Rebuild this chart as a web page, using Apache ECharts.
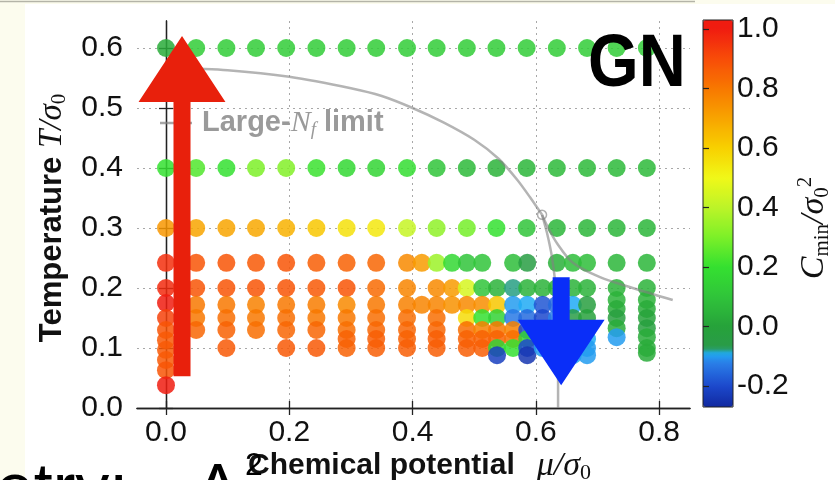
<!DOCTYPE html>
<html>
<head>
<meta charset="utf-8">
<script src="https://cdn.jsdelivr.net/npm/echarts@6/dist/echarts.min.js"></script>
<style>
  html, body { margin: 0; padding: 0; background: #ffffff; }
  #chart { width: 835px; height: 480px; }
</style>
</head>
<body>
<div id="chart"></div>
<script>
// ---- scan grid: chemical potential mu/sigma0 of the regular columns ----
const muGrid = [0, 0.049, 0.098, 0.146, 0.195, 0.244, 0.293, 0.341, 0.391,
                0.439, 0.488, 0.536, 0.585, 0.634, 0.683, 0.731, 0.78];

// C_min/sigma0^2 along the three high-temperature rows
const cminAt060 = [0.03, 0.13, 0.13, 0.13, 0.13, 0.13, 0.13, 0.13, 0.13,
                   0.13, 0.13, 0.13, 0.13, 0.13, 0.13, 0.13, 0.13];
const cminAt040 = [0.2, 0.24, 0.2, 0.3, 0.31, 0.21, 0.17, 0.16, 0.19,
                   0.1, 0.07, 0.05, 0.06, 0.07, 0.07, 0.07, 0.07];
const cminAt030 = [0.73, 0.7, 0.7, 0.69, 0.67, 0.62, 0.56, 0.54, 0.42,
                   0.33, 0.29, 0.2, 0.1, 0.06, 0.06, 0.06, 0.06];

// low-temperature scan points: [mu, T, C_min]
const lowScanHadronic = [
  [0, 0.242, 0.96], [0, 0.2, 0.97], [0, 0.175, 1.0], [0, 0.15, 0.92], [0, 0.13, 0.88],
  [0, 0.113, 0.87], [0, 0.097, 0.87], [0, 0.08, 0.87], [0, 0.063, 0.88], [0, 0.038, 1.0],
  [0.049, 0.242, 0.88], [0.049, 0.2, 0.88], [0.049, 0.172, 0.8], [0.049, 0.15, 0.8], [0.049, 0.13, 0.84],
  [0.098, 0.242, 0.88], [0.098, 0.2, 0.88], [0.098, 0.172, 0.8], [0.098, 0.15, 0.82], [0.098, 0.13, 0.85], [0.098, 0.1, 0.87],
  [0.146, 0.242, 0.87], [0.146, 0.2, 0.88], [0.146, 0.172, 0.78], [0.146, 0.15, 0.8], [0.146, 0.13, 0.82],
  [0.195, 0.242, 0.88], [0.195, 0.2, 0.88], [0.195, 0.172, 0.8], [0.195, 0.15, 0.82], [0.195, 0.13, 0.84], [0.195, 0.1, 0.87],
  [0.244, 0.242, 0.86], [0.244, 0.2, 0.87], [0.244, 0.172, 0.79], [0.244, 0.15, 0.8], [0.244, 0.13, 0.84], [0.244, 0.1, 0.87],
  [0.293, 0.242, 0.85], [0.293, 0.2, 0.88], [0.293, 0.172, 0.76], [0.293, 0.15, 0.8], [0.293, 0.13, 0.82], [0.293, 0.115, 0.85], [0.293, 0.1, 0.85],
  [0.341, 0.242, 0.84], [0.341, 0.2, 0.83], [0.341, 0.172, 0.8], [0.341, 0.15, 0.82], [0.341, 0.13, 0.84], [0.341, 0.115, 0.86], [0.341, 0.1, 0.86],
  [0.391, 0.242, 0.76], [0.391, 0.2, 0.77], [0.391, 0.172, 0.78], [0.391, 0.15, 0.82], [0.391, 0.13, 0.84], [0.391, 0.115, 0.85], [0.391, 0.1, 0.86]
];

const lowScanTransition = [
  [0.415, 0.242, 0.72], [0.415, 0.172, 0.77],
  [0.439, 0.242, 0.35], [0.439, 0.2, 0.76], [0.439, 0.172, 0.77], [0.439, 0.15, 0.82], [0.439, 0.13, 0.84], [0.439, 0.115, 0.86], [0.439, 0.1, 0.86],
  [0.464, 0.242, 0.17], [0.464, 0.2, 0.72], [0.464, 0.172, 0.74],
  [0.488, 0.242, 0.1], [0.488, 0.2, 0.45], [0.488, 0.172, 0.76], [0.488, 0.15, 0.57], [0.488, 0.13, 0.82], [0.488, 0.115, 0.85], [0.488, 0.1, 0.86],
  [0.513, 0.242, 0.1], [0.513, 0.2, 0.1], [0.513, 0.172, 0.75], [0.513, 0.15, 0.2], [0.513, 0.13, 0.78], [0.513, 0.115, 0.85], [0.513, 0.1, 0.86],
  [0.537, 0.2, 0.05], [0.537, 0.172, 0.62], [0.537, 0.15, 0.15], [0.537, 0.13, 0.8], [0.537, 0.115, 0.85], [0.537, 0.1, 0.15], [0.537, 0.088, -0.22],
  [0.563, 0.242, 0.08], [0.563, 0.2, -0.08], [0.563, 0.172, -0.1], [0.563, 0.15, -0.13], [0.563, 0.13, 0.78], [0.563, 0.115, 0.82], [0.563, 0.1, 0.2],
  [0.586, 0.242, -0.04], [0.586, 0.2, 0.05], [0.586, 0.172, -0.09], [0.586, 0.15, -0.15], [0.586, 0.13, -0.2], [0.586, 0.115, 0.15], [0.586, 0.1, -0.2], [0.586, 0.088, -0.24],
  [0.611, 0.2, 0.05], [0.611, 0.172, -0.18], [0.611, 0.15, -0.2], [0.611, 0.13, -0.15], [0.611, 0.115, -0.12], [0.611, 0.1, -0.1],
  [0.634, 0.242, 0.04], [0.634, 0.2, 0.05], [0.634, 0.172, -0.15], [0.634, 0.15, -0.12], [0.634, 0.13, -0.1], [0.634, 0.115, -0.1], [0.634, 0.1, -0.1],
  [0.66, 0.242, 0.08], [0.66, 0.2, 0.05], [0.66, 0.172, -0.09], [0.66, 0.15, -0.06], [0.66, 0.13, -0.09], [0.66, 0.115, -0.1], [0.66, 0.1, -0.1], [0.66, 0.088, -0.09]
];

const lowScanHighMu = [
  [0.683, 0.242, 0.08], [0.683, 0.2, 0.05], [0.683, 0.172, -0.03], [0.683, 0.15, -0.01], [0.683, 0.13, -0.03], [0.683, 0.115, -0.09], [0.683, 0.1, -0.1], [0.683, 0.088, -0.1],
  [0.731, 0.242, 0.06], [0.731, 0.2, 0.05], [0.731, 0.18, 0.05], [0.731, 0.165, 0.03], [0.731, 0.15, -0.03], [0.731, 0.133, 0.03], [0.731, 0.118, -0.1],
  [0.78, 0.242, 0.06], [0.78, 0.2, 0.05], [0.78, 0.18, 0.05], [0.78, 0.165, 0.03], [0.78, 0.15, 0.0], [0.78, 0.133, -0.02], [0.78, 0.118, 0.03], [0.78, 0.1, 0.03], [0.78, 0.092, 0.03]
];

// Large-N_f phase boundary: [mu, T]
const largeNfUpper = [[0, 0.568], [0.1, 0.563], [0.2, 0.552], [0.3, 0.533], [0.35, 0.52],
                      [0.4, 0.5], [0.45, 0.476], [0.5, 0.447], [0.54, 0.415], [0.57, 0.38],
                      [0.59, 0.352], [0.61, 0.322]];
const largeNfFirstOrder = [[0.61, 0.322], [0.618, 0.292], [0.626, 0.252], [0.632, 0.2],
                           [0.636, 0.1], [0.636, 0]];
const largeNfCrossover = [[0.61, 0.322], [0.62, 0.3], [0.634, 0.275], [0.66, 0.242],
                          [0.704, 0.218], [0.757, 0.2], [0.822, 0.18]];
const criticalPoint = [[0.61, 0.322]];

// tick labels
const muTicks = [0, 0.2, 0.4, 0.6, 0.8];
const tempTicks = [0, 0.1, 0.2, 0.3, 0.4, 0.5, 0.6];
const cminTicks = [-0.2, 0, 0.2, 0.4, 0.6, 0.8, 1.0];

// colour scale of C_min/sigma0^2
const cmapStops  = [-0.3, -0.2, -0.12, -0.09, -0.075, 0.0, 0.1, 0.2, 0.3, 0.4, 0.5, 0.6, 0.7, 0.8, 0.9, 1.0];
const cmapColors = ['#0c1c8c', '#1c48cc', '#2a80e8', '#20aaf4', '#2a9a4a', '#26a23a', '#30c43a', '#34e030',
                    '#7cf028', '#bcf428', '#f0f818', '#f8d000', '#f8a400', '#f87800', '#f84c08', '#f01c10'];

function hexToRgb(h) { return [1, 3, 5].map(i => parseInt(h.slice(i, i + 2), 16)); }
function sampleColormap(v) {
  let i = 0;
  while (i < cmapStops.length - 2 && v > cmapStops[i + 1]) i++;
  const t = Math.min(1, Math.max(0, (v - cmapStops[i]) / (cmapStops[i + 1] - cmapStops[i])));
  const a = hexToRgb(cmapColors[i]), b = hexToRgb(cmapColors[i + 1]);
  const c = a.map((x, k) => Math.round(x + (b[k] - x) * t));
  return 'rgb(' + c.join(',') + ')';
}
const scaleMin = -0.27, scaleMax = 1.03;
const rampColors = [];
for (let k = 0; k <= 130; k++) rampColors.push(sampleColormap(scaleMin + k * (scaleMax - scaleMin) / 130));

// assemble the scatter table
const scanPoints = [];
muGrid.forEach((m, i) => {
  scanPoints.push([m, 0.6, cminAt060[i]]);
  scanPoints.push([m, 0.4, cminAt040[i]]);
  scanPoints.push([m, 0.3, cminAt030[i]]);
});
scanPoints.push(...lowScanHadronic, ...lowScanTransition, ...lowScanHighMu);

const FONT = '"Liberation Sans", Helvetica, Arial, sans-serif';
const SERIF = '"Liberation Serif", "DejaVu Serif", serif';
const frameColor = '#222';
const gridDots = { color: '#a8a8a8', width: 1, type: [2, 4] };
const boundaryStyle = { color: 'rgba(130,130,130,0.6)', width: 2.5 };

const chart = echarts.init(document.getElementById('chart'), null, { renderer: 'canvas' });

chart.setOption({
  animation: false,
  backgroundColor: '#ffffff',
  grid: [
    { left: 137, right: 145, top: 21, bottom: 72 },
    { left: 703, top: 20, width: 30, height: 387 }
  ],
  xAxis: [
    {
      gridIndex: 0, type: 'value', min: -0.047, max: 0.85, splitNumber: 5,
      axisLine: { lineStyle: { color: frameColor, width: 1.3 } },
      axisTick: { inside: true, length: 7, customValues: muTicks, lineStyle: { color: frameColor, width: 1.3 } },
      axisLabel: { customValues: muTicks, formatter: v => v.toFixed(1), color: '#111',
                   fontFamily: FONT, fontSize: 30, margin: 10 },
      splitLine: { show: true, interval: 0, lineStyle: gridDots }
    },
    {
      gridIndex: 0, type: 'value', position: 'top', min: -0.047, max: 0.85,
      axisLine: { lineStyle: { color: frameColor, width: 1.3 } },
      axisTick: { inside: true, length: 7, customValues: muTicks, lineStyle: { color: frameColor, width: 1.3 } },
      axisLabel: { show: false }, splitLine: { show: false }
    },
    { gridIndex: 1, type: 'value', show: false, min: 0, max: 1 }
  ],
  yAxis: [
    {
      gridIndex: 0, type: 'value', min: 0, max: 0.645, interval: 0.1,
      axisLine: { show: true, lineStyle: { color: frameColor, width: 1.3 } },
      axisTick: { show: true, inside: true, length: 7, customValues: tempTicks, lineStyle: { color: frameColor, width: 1.3 } },
      axisLabel: { customValues: tempTicks, formatter: v => v.toFixed(1), color: '#111',
                   fontFamily: FONT, fontSize: 30, margin: 14 },
      splitLine: { show: true, lineStyle: gridDots }
    },
    {
      gridIndex: 0, type: 'value', position: 'right', min: 0, max: 0.645, interval: 0.1,
      axisLine: { show: true, lineStyle: { color: frameColor, width: 1.3 } },
      axisTick: { show: true, inside: true, length: 7, customValues: tempTicks, lineStyle: { color: frameColor, width: 1.3 } },
      axisLabel: { show: false }, splitLine: { show: false }
    },
    {
      gridIndex: 1, type: 'value', position: 'right', min: scaleMin, max: scaleMax, z: 10,
      axisLine: { show: false },
      axisTick: { show: false },
      axisLabel: { customValues: cminTicks, formatter: v => v.toFixed(1), color: '#111',
                   fontFamily: FONT, fontSize: 30, margin: 4 },
      splitLine: { show: false }
    },
    {
      gridIndex: 1, type: 'value', position: 'left', min: scaleMin, max: scaleMax, z: 10,
      axisLine: { show: false },
      axisTick: { show: true, inside: true, length: 6, customValues: cminTicks, lineStyle: { color: '#222', width: 1.2 } },
      axisLabel: { show: false }, splitLine: { show: false }
    }
  ],
  visualMap: {
    type: 'continuous', min: scaleMin, max: scaleMax, dimension: 2, seriesIndex: [0],
    left: 703, top: 20, itemWidth: 30, itemHeight: 387, padding: 0,
    calculable: false, hoverLink: false, text: null, realtime: false,
    inRange: { color: rampColors }
  },
  series: [
    {
      type: 'scatter', xAxisIndex: 0, yAxisIndex: 0, data: scanPoints,
      symbolSize: 18, itemStyle: { opacity: 0.85 }, silent: true, z: 2
    },
    { type: 'line', data: largeNfUpper, showSymbol: false, smooth: 0.25, lineStyle: boundaryStyle, silent: true, z: 3 },
    { type: 'line', data: largeNfFirstOrder, showSymbol: false, smooth: 0.3, lineStyle: boundaryStyle, silent: true, z: 3 },
    { type: 'line', data: largeNfCrossover, showSymbol: false, smooth: 0.3, lineStyle: boundaryStyle, silent: true, z: 3 },
    {
      type: 'scatter', data: criticalPoint, symbolSize: 9, silent: true, z: 3,
      itemStyle: { color: 'rgba(255,255,255,0)', borderColor: 'rgba(130,130,130,0.8)', borderWidth: 1.5 }
    }
  ]
});

// arrows in data units (mu, T)
const arrows = [
  { mu: 0.026, tip: 0.62, headBase: 0.51, tail: 0.053, color: '#e8200c' },
  { mu: 0.641, tip: 0.038, headBase: 0.147, tail: 0.218, color: '#0a2ef8' }
];
const headHalf = 0.0705, shaftHalf = 0.0138;
function px(mu, t) { return chart.convertToPixel({ xAxisIndex: 0, yAxisIndex: 0 }, [mu, t]); }
const arrowShapes = arrows.map(a => ({
  type: 'polygon', z: 50, silent: true,
  shape: { points: [
    px(a.mu, a.tip), px(a.mu + headHalf, a.headBase), px(a.mu + shaftHalf, a.headBase),
    px(a.mu + shaftHalf, a.tail), px(a.mu - shaftHalf, a.tail), px(a.mu - shaftHalf, a.headBase),
    px(a.mu - headHalf, a.headBase)
  ] },
  style: { fill: a.color }
}));

chart.setOption({
  graphic: [
    // slide margin strips
    { type: 'rect', shape: { x: 0, y: 0, width: 25, height: 480 }, style: { fill: '#fcfcee' }, z: -10, silent: true },
    { type: 'rect', shape: { x: 0, y: 0, width: 835, height: 4 }, style: { fill: '#fcfcee' }, z: -10, silent: true },
    { type: 'line', shape: { x1: 0, y1: 1.5, x2: 695, y2: 1.5 }, style: { stroke: '#b4b4a8', lineWidth: 1.5 }, z: -9, silent: true },
    // colour bar frame
    { type: 'rect', shape: { x: 703, y: 20, width: 30, height: 387 }, style: { fill: 'none', stroke: '#222', lineWidth: 1 }, z: 20, silent: true },
    // legend entry of the boundary
    { type: 'line', shape: { x1: 160, y1: 123, x2: 192, y2: 123 }, style: { stroke: 'rgba(130,130,130,0.7)', lineWidth: 2.5 }, z: 5, silent: true },
    {
      type: 'text', x: 202, y: 123, z: 5, silent: true,
      style: {
        text: '{b|Large-}{n|N}{f|f}{b| limit}', textVerticalAlign: 'middle', fill: '#999',
        rich: {
          b: { fontFamily: FONT, fontWeight: 'bold', fontSize: 29, fill: '#9a9a9a' },
          n: { fontFamily: SERIF, fontStyle: 'italic', fontSize: 30, fill: '#9a9a9a' },
          f: { fontFamily: SERIF, fontStyle: 'italic', fontSize: 19, fill: '#9a9a9a', padding: [14, 0, 0, 0] }
        }
      }
    },
    // phase label
    {
      type: 'text', x: 588, y: 66, z: 30, silent: true, scaleX: 0.88,
      style: { text: 'GN', font: 'bold 74px ' + FONT, fill: '#000', textVerticalAlign: 'middle' }
    },
    // axis titles
    {
      type: 'text', x: 52, y: 218, rotation: Math.PI / 2, z: 5, silent: true,
      style: {
        text: '{b|Temperature }{i|T/σ}{s|0}', textAlign: 'center', textVerticalAlign: 'middle',
        rich: {
          b: { fontFamily: FONT, fontWeight: 'bold', fontSize: 31, fill: '#111' },
          i: { fontFamily: SERIF, fontStyle: 'italic', fontSize: 33, fill: '#111' },
          s: { fontFamily: SERIF, fontSize: 21, fill: '#111', padding: [14, 0, 0, 0] }
        }
      }
    },
    {
      type: 'text', x: 248, y: 466, z: 5, silent: true,
      style: {
        text: '{b|Chemical potential}{g| }{i|μ/σ}{s|0}', textVerticalAlign: 'middle',
        rich: {
          b: { fontFamily: FONT, fontWeight: 'bold', fontSize: 30, fill: '#111' },
          g: { width: 22 },
          i: { fontFamily: SERIF, fontStyle: 'italic', fontSize: 34, fill: '#111' },
          s: { fontFamily: SERIF, fontSize: 22, fill: '#111', padding: [14, 0, 0, 0] }
        }
      }
    },
    {
      type: 'text', x: 814, y: 228, rotation: Math.PI / 2, z: 5, silent: true,
      style: {
        text: '{i|C}{s|min}{i|/σ}{s|0}{p|2}', textAlign: 'center', textVerticalAlign: 'middle',
        rich: {
          i: { fontFamily: SERIF, fontStyle: 'italic', fontSize: 34, fill: '#111' },
          s: { fontFamily: SERIF, fontSize: 21, fill: '#111', padding: [16, 0, 0, 0] },
          p: { fontFamily: SERIF, fontSize: 21, fill: '#111', padding: [0, 0, 18, 0] }
        }
      }
    },
    // slide title running across the bottom edge
    { type: 'text', x: -4, y: 526, z: 40, silent: true, style: { text: 'etry:', font: '68px ' + FONT, fill: '#000', textVerticalAlign: 'bottom' } },
    { type: 'text', x: 195, y: 526, z: 40, silent: true, style: { text: 'Λ', font: '68px ' + FONT, fill: '#000', textVerticalAlign: 'bottom' } },
    { type: 'text', x: 245, y: 466, z: 40, silent: true, style: { text: '2', font: '32px ' + FONT, fill: '#000', textVerticalAlign: 'middle' } }
  ].concat(arrowShapes)
});
</script>
</body>
</html>
